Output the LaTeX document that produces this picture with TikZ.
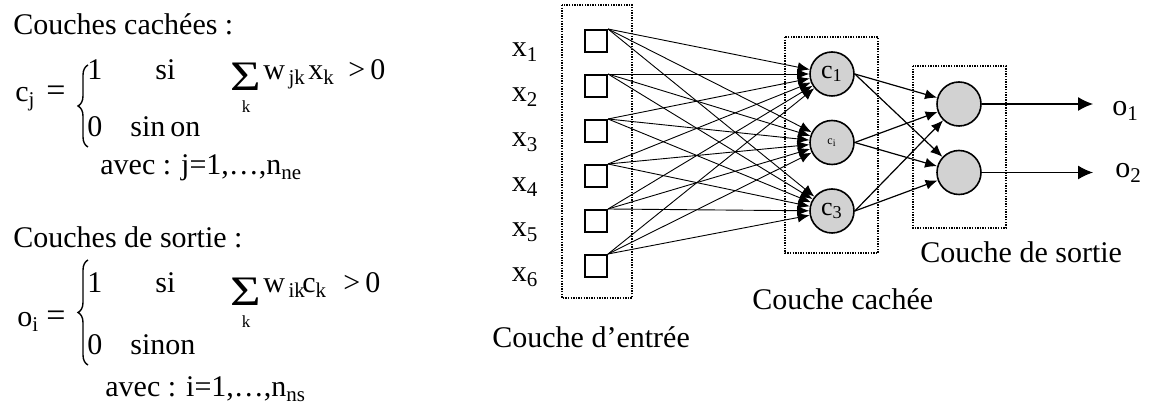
\documentclass[tikz,border=0pt]{standalone}
\usepackage{fontspec}
\setmainfont{Liberation Serif}
\usetikzlibrary{arrows.meta,decorations.pathreplacing}
\begin{document}
\begin{tikzpicture}[x=0.5pt,y=-0.5pt,
  txt/.style={font=\fontsize{15}{18}\selectfont, inner sep=0pt, anchor=base west},
  txtc/.style={font=\fontsize{15}{18}\selectfont, inner sep=0pt, anchor=base},
  eqsign/.style={font=\fontsize{17}{20}\selectfont, inner sep=0pt, anchor=base west},
  small/.style={font=\fontsize{8.5}{10}\selectfont, inner sep=0pt, anchor=base},
  sumsign/.style={font=\fontsize{21}{23}\selectfont, inner sep=0pt, anchor=base, text depth=0pt},
  sq/.style={draw, line width=1.2pt, minimum size=10.8pt, inner sep=0pt},
  neuron/.style={circle, draw, line width=0.8pt, fill=gray!35, minimum size=22pt, inner sep=0pt, font=\fontsize{13}{15}\selectfont},
  layerbox/.style={draw, line width=1.1pt, dash pattern=on 0.7pt off 0.6pt},
  inarrow/.style={line width=0.45pt, -{Latex[length=6pt,width=5pt]}},
  midarrow/.style={line width=0.6pt, -{Latex[length=6pt,width=5pt]}},
  outarrow/.style={line width=0.6pt, -{Latex[length=7.5pt,width=7pt]}},
  bracestyle/.style={decorate, decoration={brace, amplitude=5pt}, line width=0.7pt}
]
\useasboundingbox (0,0) rectangle (1151,405);

% ---------- left: formulas ----------
\node[txt] (t1) at (13,35) {Couches cachées :};
\node[txt] (cj) at (15,102) {c\textsubscript{j}};
\node[eqsign] (eq1) at (46,102) {=};
\draw[bracestyle] (88,147) -- (88,65);
\node[txt] (one1) at (87,80) {1};
\node[txt] (si1) at (155,80) {si};
\node[sumsign] (sum1) at (246,91) {\scalebox{1.25}[1]{Σ}};
\node[small] (k1) at (246,113) {k};
\node[txt] (w1) at (263,80) {w\textsubscript{\,jk}};
\node[txt] (x1f) at (308,80) {x\textsubscript{k}};
\node[txt] (gt1) at (348,80) {>};
\node[txt] (z1) at (370,80) {0};
\node[txt] (zero1) at (87,137) {0};
\node[txt] (sinon1) at (130,137) {sin\,on};
\node[txt] (avec1) at (100,175) {avec : j=1,…,n\textsubscript{ne}};

\node[txt] (t2) at (13,248) {Couches de sortie :};
\node[txt] (oi) at (17,327) {o\textsubscript{i}};
\node[eqsign] (eq2) at (46,327) {=};
\draw[bracestyle] (88,365) -- (88,260);
\node[txt] (one2) at (87,293) {1};
\node[txt] (si2) at (155,293) {si};
\node[sumsign] (sum2) at (246,306) {\scalebox{1.25}[1]{Σ}};
\node[small] (k2) at (246,328) {k};
\node[txt] (w2) at (263,293) {w\textsubscript{\,ik}};
\node[txt] (c2f) at (302,293) {c\textsubscript{k}};
\node[txt] (gt2) at (343,293) {>};
\node[txt] (z2) at (365,293) {0};
\node[txt] (zero2) at (87,355) {0};
\node[txt] (sinon2) at (130,355) {sinon};
\node[txt] (avec2) at (105,397) {avec : i=1,…,n\textsubscript{ns}};

% ---------- right: network ----------
\draw[layerbox] (562,5) rectangle (632,298);
\draw[layerbox] (785,37) rectangle (878,253);
\draw[layerbox] (913,66) rectangle (1006,228);

\foreach \i in {1,...,6} {
  \node[sq] (s\i) at (596,{41+45*(\i-1)}) {};
  \node[txtc] (lx\i) at (525,{57+45*(\i-1)}) {x\textsubscript{\i}};
}

\node[neuron] (c1) at (832,74) {c\textsubscript{1}};
\node[neuron, font=\fontsize{6}{7}\selectfont] (c2) at (832,142.5) {c\textsubscript{i}};
\node[neuron] (c3) at (832,211) {c\textsubscript{3}};

\node[neuron] (o1) at (959,104) {};
\node[neuron] (o2) at (959,172.5) {};

\foreach \i in {1,...,6}
  \foreach \j in {1,2,3}
    \draw[inarrow] (s\i.north east) -- (c\j);

\foreach \j in {1,2,3}
  \foreach \k in {1,2}
    \draw[midarrow] (c\j.east) -- (o\k);

\coordinate (e1) at (1093,104);
\coordinate (e2) at (1093,172.5);
\draw[outarrow] (o1) -- (e1);
\draw[outarrow] (o2) -- (e2);
\node[txt] (lo1) at (1112,116) {o\textsubscript{1}};
\node[txt] (lo2) at (1115,178) {o\textsubscript{2}};

\node[txt] (lin) at (492,348) {Couche d’entrée};
\node[txt] (lhid) at (752,310) {Couche cachée};
\node[txt] (lout) at (920,263) {Couche de sortie};
\end{tikzpicture}
\end{document}
